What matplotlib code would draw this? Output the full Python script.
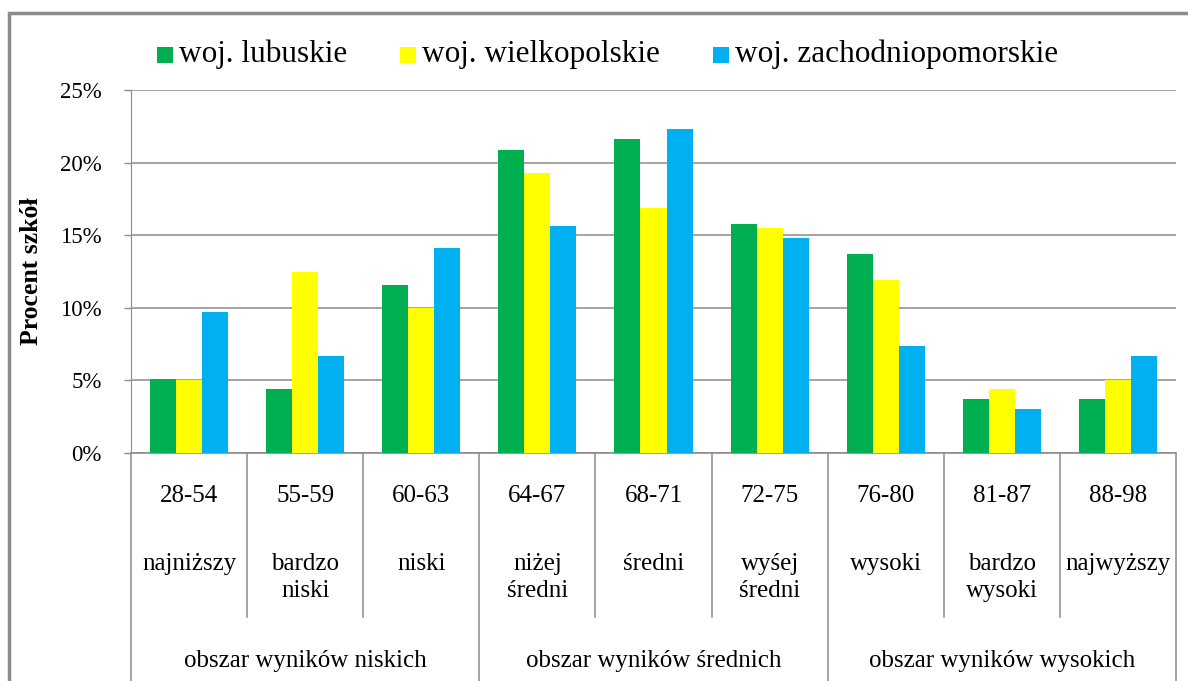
import matplotlib
matplotlib.use("Agg")
import matplotlib.pyplot as plt
from matplotlib.patches import Rectangle
from matplotlib.transforms import blended_transform_factory
import numpy as np

plt.rcParams['font.family'] = ['Liberation Serif', 'DejaVu Serif']

ranges = ["28-54", "55-59", "60-63", "64-67", "68-71", "72-75", "76-80", "81-87", "88-98"]
levels = [["najniższy"], ["bardzo", "niski"], ["niski"], ["niżej", "średni"], ["średni"],
          ["wyśej", "średni"], ["wysoki"], ["bardzo", "wysoki"], ["najwyższy"]]
groups = ["obszar wyników niskich", "obszar wyników średnich", "obszar wyników wysokich"]
series_names = ["woj. lubuskie", "woj. wielkopolskie", "woj. zachodniopomorskie"]
lubuskie = [5.1, 4.4, 11.6, 20.9, 21.6, 15.8, 13.7, 3.7, 3.7]
wielkopolskie = [5.0, 12.5, 10.0, 19.3, 16.9, 15.5, 11.9, 4.4, 5.0]
zachodniopomorskie = [9.7, 6.7, 14.1, 15.6, 22.3, 14.8, 7.4, 3.0, 6.7]
colors = ["#00B050", "#FFFF00", "#00B0F0"]

W, H = 1188, 681
fig = plt.figure(figsize=(W / 100, H / 100), dpi=100)
ax = fig.add_axes([131 / W, 1 - 453 / H, (1176 - 131) / W, (453 - 90) / H])

x = np.arange(len(ranges))
bw = 0.224
for i, (vals, c) in enumerate(zip([lubuskie, wielkopolskie, zachodniopomorskie], colors)):
    ax.bar(x + (i - 1) * bw, vals, width=bw, color=c, edgecolor='none', zorder=3)

grid_c = "#8c8c8c"
ax.set_xlim(-0.5, len(ranges) - 0.5)
ax.set_ylim(0, 25)
ax.set_yticks([0, 5, 10, 15, 20, 25])
ax.set_yticklabels([f"{v}%" for v in [0, 5, 10, 15, 20, 25]], fontsize=16.5)
ax.yaxis.grid(True, color=grid_c, linewidth=1.1, zorder=0)
ax.tick_params(axis='y', length=5, width=1, color=grid_c, pad=16)
ax.set_xticks([])
for s in ['top', 'right']:
    ax.spines[s].set_visible(False)
ax.spines['left'].set_color(grid_c)
ax.spines['bottom'].set_color(grid_c)
ax.spines['bottom'].set_linewidth(1.2)

# multi-level category axis
tr = blended_transform_factory(ax.transData, ax.transAxes)
ah = 453 - 90
def yax(py):
    return (453 - py) / ah

for b in range(len(ranges) + 1):
    xb = b - 0.5
    bottom = yax(700) if b % 3 == 0 else yax(617)
    ax.plot([xb, xb], [0, bottom], transform=tr, color=grid_c, lw=1.1, clip_on=False)

for i, r in enumerate(ranges):
    ax.text(i, yax(502), r, transform=tr, ha='center', va='baseline', fontsize=18)
    for j, line in enumerate(levels[i]):
        ax.text(i, yax(570 + j * 27), line, transform=tr, ha='center', va='baseline', fontsize=18)
for g, name in enumerate(groups):
    ax.text(3 * g + 1, yax(667), name, transform=tr, ha='center', va='baseline', fontsize=18)

fig.text(32 / W, 1 - 271 / H, "Procent szkół", rotation=90, ha='center', va='center',
         fontsize=18.5, fontweight='bold')

# legend (manual)
leg_x = [157, 400, 713]
for lx, name, c in zip(leg_x, series_names, colors):
    fig.patches.append(Rectangle((lx / W, 1 - 62.5 / H), 16 / W, 16 / H, transform=fig.transFigure,
                                 facecolor=c, edgecolor='none'))
    fig.text((lx + 22) / W, 1 - 54.5 / H, name, ha='left', va='center', fontsize=22.5)

# chart border
fig.patches.append(Rectangle((9 / W, -0.05), 1.2, 1 - 13 / H + 0.05, transform=fig.transFigure,
                             facecolor='none', edgecolor=grid_c, linewidth=2.5))

fig.savefig("out.png", dpi=100)
